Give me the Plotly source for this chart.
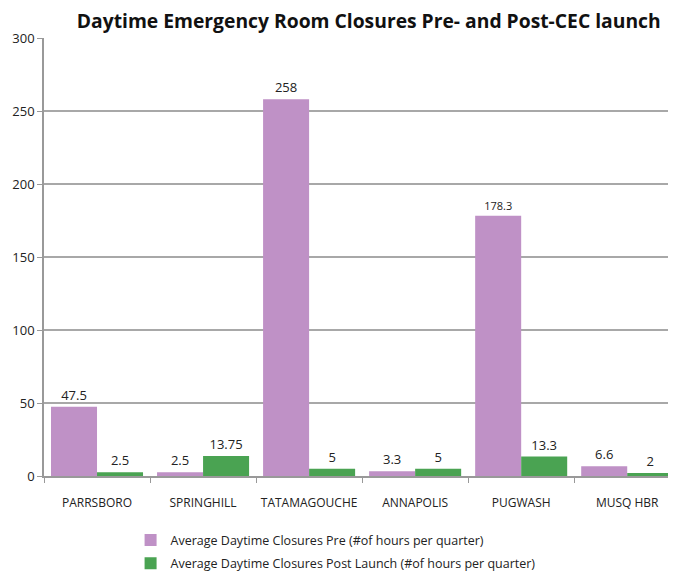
import plotly.graph_objects as go

categories = ["PARRSBORO", "SPRINGHILL", "TATAMAGOUCHE", "ANNAPOLIS", "PUGWASH", "MUSQ HBR"]
pre_values = [47.5, 2.5, 258, 3.3, 178.3, 6.6]
post_values = [2.5, 13.75, 5, 5, 13.3, 2]
pre_labels = ["47.5", "2.5", "258", "3.3", "178.3", "6.6"]
post_labels = ["2.5", "13.75", "5", "5", "13.3", "2"]
pre_name = "Average Daytime Closures Pre (#of hours per quarter)"
post_name = "Average Daytime Closures Post Launch (#of hours per quarter)"
y_ticks = [0, 50, 100, 150, 200, 250, 300]

FONT = "Open Sans"

fig = go.Figure()
fig.add_trace(go.Bar(
    x=categories, y=pre_values, name=pre_name, legendgroup="pre",
    marker=dict(color="#BF91C6", line=dict(width=0)),
    text=pre_labels, textposition="outside", cliponaxis=False,
    textfont=dict(size=[13, 13, 13, 13, 11, 13], color="#222222", family=FONT),
))
fig.add_trace(go.Bar(
    x=categories, y=post_values, name=post_name, legendgroup="post",
    marker=dict(color="#4AA352", line=dict(width=0)),
    text=post_labels, textposition="outside", cliponaxis=False,
    textfont=dict(size=13, color="#222222", family=FONT),
))

fig.update_layout(
    width=668, height=563,
    margin=dict(l=36, r=0, t=30, b=95, autoexpand=False),
    paper_bgcolor="white", plot_bgcolor="white",
    barmode="group", bargap=0.132, bargroupgap=0,
    font=dict(family=FONT, size=12, color="#222222"),
    title=dict(text="<b>Daytime Emergency Room Closures Pre- and Post-CEC launch</b>",
               x=0.54, xanchor="center", y=0.976, yanchor="middle",
               font=dict(family=FONT, size=19.3, color="#111111")),
    legend=dict(orientation="v", x=0.137, xanchor="left", y=-0.113, yanchor="top",
                font=dict(size=12.5, family=FONT, color="#222222"),
                traceorder="grouped", itemsizing="constant", tracegroupgap=4,
                itemwidth=30),
    showlegend=True,
)
fig.update_xaxes(
    range=[-0.5, 5.46], showgrid=False,
    showline=True, linecolor="#999999", linewidth=1.5,
    ticks="outside", tickson="boundaries", ticklen=5, tickcolor="#999999",
    tickfont=dict(size=12, family=FONT, color="#222222"),
    ticklabelstandoff=15,
)
fig.update_yaxes(
    range=[0, 300], tickvals=y_ticks,
    showgrid=True, gridcolor="#A8A8A8", gridwidth=1.5,
    showline=True, linecolor="#999999", linewidth=1.5,
    ticks="outside", ticklen=5, tickcolor="#999999",
    tickfont=dict(size=13, family=FONT, color="#222222"),
    zeroline=False,
)

fig.write_html("out.html")
